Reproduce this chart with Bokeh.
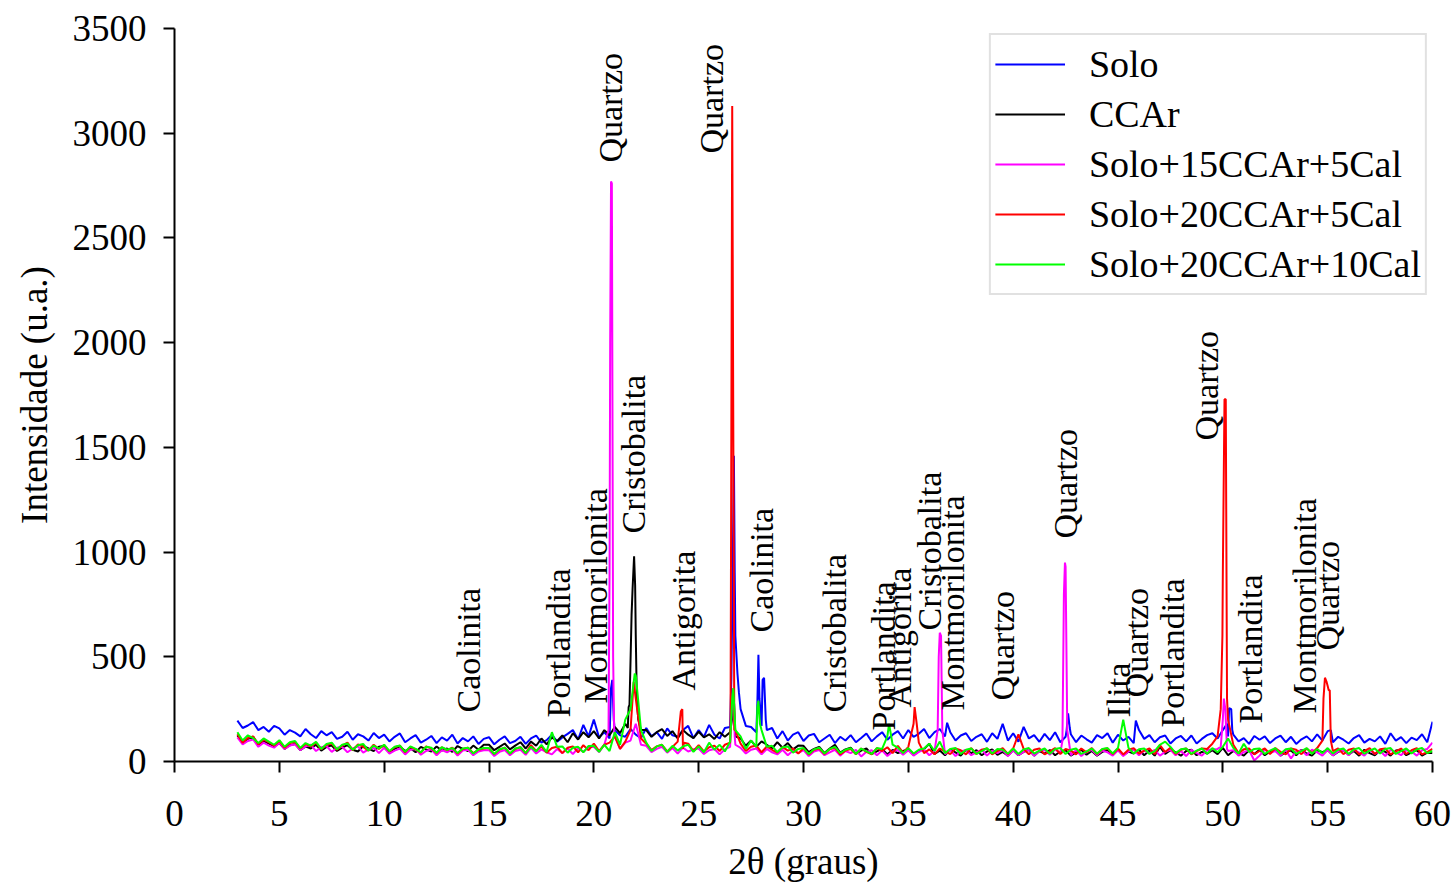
import numpy as np
from bokeh.plotting import figure
from bokeh.models import ColumnDataSource, Legend, LegendItem, FixedTicker, Range1d
from bokeh.core.properties import value
from bokeh.embed import file_html
from bokeh.resources import INLINE

FONT = "Liberation Serif"

# ---------------- data (2theta grid from 3 to 60 step 0.25, plus peak points) -------------
GRID_START = 3.0
GRID_STEP = 0.25

solo_base = [195, 160, 172, 188, 150, 165, 142, 170,
             158, 128, 150, 138, 120, 155, 130, 112, 145, 125, 140, 108, 118, 142, 104, 130, 120, 100, 136, 112,
             128, 96, 118, 134, 92, 110, 126, 90, 104, 122, 88, 115, 100, 128, 86, 112, 96, 120, 84, 108,
             116, 82, 104, 120, 88, 98, 118, 84, 110, 124, 90, 102, 128, 95, 115, 132, 150, 105, 175, 120,
             200, 115, 140, 110, 150, 125, 118, 155, 128, 112, 160, 120, 140, 108, 158, 125, 118, 150, 170, 112,
             150, 118, 175, 128, 110, 160, 165, 600, 250, 170, 165, 140, 170, 150, 160, 110, 145, 100, 128, 140,
             98, 124, 132, 92, 110, 128, 88, 118, 100, 126, 92, 112, 134, 96, 120, 140, 104, 128, 145, 110,
             150, 118, 132, 155, 112, 140, 155, 120, 140, 100, 124, 135, 98, 118, 130, 94, 135, 108, 180, 100,
             135, 95, 165, 110, 126, 94, 132, 102, 140, 92, 118, 130, 92, 124, 106, 90, 126, 112, 135, 90,
             128, 100, 118, 88, 150, 108, 126, 92, 116, 124, 86, 110, 122, 96, 124, 86, 108, 126, 135, 110,
             150, 120, 128, 96, 112, 84, 122, 104, 120, 88, 110, 124, 92, 118, 84, 106, 120, 96, 130, 100,
             145, 92, 118, 104, 86, 112, 126, 90, 108, 96, 120, 84, 135, 100, 116, 88, 114, 102, 130, 92,
             190]
solo_peak_x = [20.82, 20.88, 20.95, 26.56, 26.62, 26.68, 26.72, 26.85, 26.92, 27.8, 27.85, 27.9, 28.05, 28.12,
               28.2, 36.85, 42.55, 42.62, 42.7, 45.85, 50.2, 50.3, 50.4, 50.45, 55.15]
solo_peak_y = [350, 390, 200, 400, 870, 1460, 900, 420, 330, 280, 510, 300, 390, 400,
               200, 185, 150, 230, 160, 195, 180, 255, 250, 150, 150]

ccar_base = [125, 92, 108, 118, 80, 98, 86, 72,
             88, 60, 78, 84, 54, 72, 62, 80, 52, 70, 76, 50, 66, 78, 56, 48, 74, 62, 50, 70,
             74, 46, 60, 72, 50, 64, 44, 70, 58, 48, 72, 52, 62, 46, 74, 60, 50, 76, 56, 80,
             80, 54, 70, 86, 58, 76, 92, 62, 95, 75, 110, 82, 115, 98, 125, 92, 135, 105, 140, 115,
             145, 110, 150, 125, 165, 135, 180, 480, 600, 150, 150, 118, 140, 155, 122, 145, 110, 150, 128, 112,
             142, 115, 130, 108, 140, 118, 140, 120, 110, 75, 100, 70, 96, 80, 62, 92, 66, 88, 58, 76,
             75, 45, 60, 70, 40, 62, 80, 42, 58, 66, 36, 52, 62, 35, 48, 60, 34, 55, 40, 50,
             58, 32, 48, 60, 85, 36, 52, 30, 58, 44, 28, 56, 40, 54, 30, 48, 58, 32, 46, 28,
             54, 30, 46, 56, 28, 50, 38, 55, 30, 48, 54, 28, 44, 56, 32, 50, 28, 46, 54, 34,
             55, 29, 48, 38, 56, 30, 52, 28, 70, 36, 54, 44, 28, 50, 56, 30, 46, 38, 54, 35,
             65, 30, 50, 42, 28, 54, 36, 56, 30, 48, 54, 28, 46, 52, 30, 56, 38, 28, 54, 44,
             55, 29, 46, 54, 32, 50, 28, 56, 40, 30, 54, 46, 28, 52, 56, 30, 44, 55, 28, 42,
             40]
ccar_peak_x = [21.62, 21.66, 21.7, 21.8, 21.85, 21.92, 21.97, 22.05, 22.12, 26.62, 26.68]
ccar_peak_y = [160, 260, 270, 700, 830, 980, 840, 300, 200, 220, 300]

s15_base = [115, 82, 98, 105, 70, 90, 76, 66,
            88, 60, 76, 82, 54, 72, 80, 50, 68, 74, 46, 66, 70, 44, 62, 72, 42, 58, 66, 40,
            65, 38, 52, 62, 34, 56, 60, 32, 50, 58, 30, 54, 44, 58, 28, 52, 56, 30, 48, 54,
            54, 26, 46, 55, 30, 50, 56, 32, 65, 38, 58, 44, 34, 60, 40, 62, 36, 64, 46, 68,
            70, 45, 80, 900, 120, 60, 90, 100, 180, 80, 75, 45, 60, 70, 42, 64, 38, 66, 48, 58,
            62, 36, 54, 60, 34, 58, 70, 80, 65, 38, 56, 62, 34, 60, 44, 34, 56, 30, 52, 40,
            54, 26, 48, 55, 30, 44, 56, 28, 50, 40, 55, 24, 46, 54, 30, 52, 26, 48, 55, 32,
            54, 28, 46, 56, 30, 50, 615, 35, 54, 26, 48, 55, 30, 44, 56, 28, 52, 40, 55, 26,
            54, 30, 46, 56, 28, 50, 55, 32, 58, 40, 930, 30, 54, 26, 48, 55, 30, 52, 44, 28,
            54, 26, 48, 56, 30, 52, 40, 55, 28, 46, 56, 30, 50, 26, 55, 40, 28, 54, 58, 60,
            200, 50, 54, 28, 45, 55, 5, 28, 56, 40, 50, 28, 55, 15, 48, 54, 30, 56, 44, 28,
            55, 29, 48, 54, 30, 56, 42, 28, 55, 36, 50, 26, 56, 44, 30, 54, 48, 28, 54, 60,
            90]
s15_peak_x = [20.7, 20.78, 20.82, 20.86, 20.92, 20.97, 26.6, 26.66, 26.72, 36.4, 36.45, 36.56, 36.62,
              42.35, 42.42, 42.47, 42.58, 49.9, 50.05, 50.12, 50.2]
s15_peak_y = [150, 2000, 2770, 2760, 500, 150, 300, 350, 120, 150, 500, 600, 150,
              100, 800, 950, 150, 70, 300, 250, 60]

s20_5_base = [130, 90, 112, 120, 82, 104, 92, 76,
              98, 66, 88, 94, 62, 84, 72, 90, 58, 80, 86, 56, 76, 90, 54, 82, 70, 52, 80, 60,
              78, 48, 68, 76, 44, 70, 58, 42, 72, 62, 40, 68, 54, 66, 38, 60, 66, 40, 56, 62,
              64, 36, 56, 66, 38, 60, 68, 40, 78, 50, 72, 42, 64, 70, 40, 66, 72, 44, 78, 54,
              85, 50, 80, 90, 120, 60, 95, 150, 300, 110, 85, 55, 72, 80, 48, 70, 95, 60, 85, 50,
              78, 48, 68, 76, 50, 80, 90, 150, 85, 50, 70, 76, 44, 72, 56, 42, 70, 52, 62, 38,
              64, 34, 56, 62, 36, 58, 66, 34, 52, 60, 35, 62, 46, 34, 64, 50, 68, 40, 75, 42,
              70, 180, 90, 40, 58, 34, 62, 48, 35, 62, 54, 34, 64, 36, 56, 62, 34, 50, 64, 36,
              62, 130, 60, 35, 56, 62, 34, 48, 64, 36, 60, 52, 34, 62, 44, 64, 36, 58, 62, 35,
              62, 34, 56, 64, 38, 52, 62, 35, 78, 45, 66, 36, 56, 62, 34, 50, 62, 60, 85, 120,
              900, 200, 80, 40, 58, 62, 34, 50, 62, 36, 64, 46, 34, 62, 56, 35, 62, 40, 64, 100,
              360, 50, 62, 35, 56, 62, 34, 50, 64, 36, 58, 62, 34, 48, 62, 36, 54, 64, 34, 45,
              60]
s20_5_peak_x = [21.9, 24.15, 24.22, 24.3, 26.52, 26.6, 26.7, 35.3, 35.4, 49.9, 49.98, 50.08, 50.14, 50.2,
                54.8, 54.87, 54.95, 55.05, 55.1, 55.15]
s20_5_peak_y = [380, 240, 250, 90, 150, 3130, 150, 260, 180, 250, 600, 1730, 1730, 300,
                300, 400, 380, 340, 340, 100]

s20_10_base = [140, 100, 125, 112, 88, 110, 95, 80,
               102, 70, 92, 98, 64, 88, 76, 94, 60, 84, 90, 58, 80, 86, 56, 78, 84, 52, 76, 62,
               80, 50, 70, 76, 46, 72, 60, 44, 70, 66, 42, 68, 56, 64, 40, 62, 66, 38, 58, 64,
               64, 36, 58, 66, 38, 62, 68, 40, 70, 48, 80, 45, 140, 70, 72, 42, 66, 70, 44, 74,
               75, 46, 80, 50, 140, 80, 200, 250, 410, 150, 90, 50, 72, 80, 46, 75, 52, 72, 80, 46,
               72, 44, 90, 56, 80, 48, 95, 150, 120, 60, 100, 70, 150, 70, 75, 45, 68, 72, 42, 60,
               64, 36, 58, 66, 38, 60, 70, 40, 56, 64, 36, 62, 48, 36, 64, 60, 120, 80, 66, 40,
               64, 38, 56, 62, 85, 50, 95, 40, 60, 64, 36, 56, 62, 36, 50, 64, 38, 60, 56, 37,
               62, 36, 58, 64, 38, 52, 62, 37, 60, 64, 36, 56, 62, 36, 48, 62, 37, 60, 64, 38,
               65, 200, 65, 38, 58, 62, 36, 50, 80, 95, 70, 40, 58, 62, 36, 52, 62, 37, 64, 44,
               70, 110, 65, 38, 85, 45, 60, 62, 36, 52, 64, 37, 58, 62, 36, 50, 64, 37, 60, 40,
               64, 38, 56, 62, 36, 58, 64, 37, 52, 62, 38, 60, 64, 36, 50, 62, 38, 58, 64, 40,
               50]
s20_10_peak_x = [21.95, 22.05, 26.6, 26.65, 26.7, 27.8, 27.85, 27.92, 34.08, 34.15]
s20_10_peak_y = [420, 360, 300, 350, 250, 260, 290, 180, 180, 140]

series_names = ["Solo", "CCAr", "Solo+15CCAr+5Cal", "Solo+20CCAr+5Cal", "Solo+20CCAr+10Cal"]
series_colors = ["#0000ff", "#000000", "#ff00ff", "#ff0000", "#00ff00"]

# mineral annotations (2theta, intensity where the label starts)
ann_labels = ["Caolinita", "Portlandita", "Montmorilonita", "Quartzo", "Cristobalita", "Antigorita",
              "Quartzo", "Caolinita", "Cristobalita", "Portlandita", "Antigorita", "Cristobalita",
              "Montmorilonita", "Quartzo", "Quartzo", "Ilita", "Quartzo", "Portlandita", "Quartzo",
              "Portlandita", "Montmorilonita", "Quartzo"]
ann_x = [14.0, 18.3, 20.1, 20.8, 21.9, 24.3, 25.6, 28.0, 31.5, 33.8, 34.6, 36.0,
         37.1, 39.5, 42.5, 45.0, 45.9, 47.6, 49.2, 51.3, 53.9, 55.0]
ann_y = [234, 210, 277, 2860, 1089, 339, 2903, 616, 234, 148, 258, 626,
         243, 291, 1065, 210, 306, 162, 1533, 181, 229, 530]

x_ticks = [0, 5, 10, 15, 20, 25, 30, 35, 40, 45, 50, 55, 60]
y_ticks = [0, 500, 1000, 1500, 2000, 2500, 3000, 3500]


def build(base, px, py):
    xs = [GRID_START + GRID_STEP * i for i in range(len(base))] + list(px)
    ys = list(base) + list(py)
    order = np.argsort(xs, kind="stable")
    return np.array(xs)[order], np.array(ys)[order]


all_series = [
    build(solo_base, solo_peak_x, solo_peak_y),
    build(ccar_base, ccar_peak_x, ccar_peak_y),
    build(s15_base, s15_peak_x, s15_peak_y),
    build(s20_5_base, s20_5_peak_x, s20_5_peak_y),
    build(s20_10_base, s20_10_peak_x, s20_10_peak_y),
]

p = figure(width=1452, height=892, output_backend="svg", toolbar_location=None,
           x_range=Range1d(0, 60), y_range=Range1d(0, 3500),
           min_border_left=174, min_border_right=20, min_border_top=28, min_border_bottom=131)
p.outline_line_color = None
p.grid.visible = False
p.background_fill_color = "white"
p.border_fill_color = "white"

items = []
for (xs, ys), name, col in zip(all_series, series_names, series_colors):
    r = p.line(xs, ys, line_color=col, line_width=2)
    items.append(LegendItem(label=name, renderers=[r]))

src = ColumnDataSource(dict(x=ann_x, y=ann_y, t=ann_labels))
p.text(x="x", y="y", text="t", source=src, angle=np.pi / 2, text_align="left",
       text_baseline="middle", text_font=value(FONT), text_font_size="34px", text_color="black")

for ax in (p.xaxis[0], p.yaxis[0]):
    ax.axis_line_width = 2
    ax.axis_line_color = "black"
    ax.major_tick_line_width = 2
    ax.major_tick_line_color = "black"
    ax.major_tick_out = 11
    ax.major_tick_in = 0
    ax.minor_tick_out = 0
    ax.minor_tick_in = 0
    ax.major_label_text_font = FONT
    ax.major_label_text_font_size = "37px"
    ax.major_label_text_color = "black"
    ax.axis_label_text_font = FONT
    ax.axis_label_text_font_size = "37px"
    ax.axis_label_text_font_style = "normal"
    ax.axis_label_text_color = "black"

p.xaxis.ticker = FixedTicker(ticks=x_ticks)
p.yaxis.ticker = FixedTicker(ticks=y_ticks)
p.xaxis.axis_label = "2θ (graus)"
p.yaxis.axis_label = "Intensidade (u.a.)"
p.xaxis.major_label_standoff = 28
p.xaxis.axis_label_standoff = 12
p.yaxis.major_label_standoff = 17
p.yaxis.axis_label_standoff = 15

legend = Legend(items=items, location="top_right", margin=5, padding=4, spacing=0,
                label_height=50, glyph_height=20, glyph_width=70, label_standoff=24,
                label_text_font=FONT, label_text_font_size="38px", label_text_color="black",
                border_line_color="#c4c4c4", border_line_width=2, background_fill_color="white",
                background_fill_alpha=1.0)
p.add_layout(legend)

open("out.html", "w").write(file_html(p, INLINE))
